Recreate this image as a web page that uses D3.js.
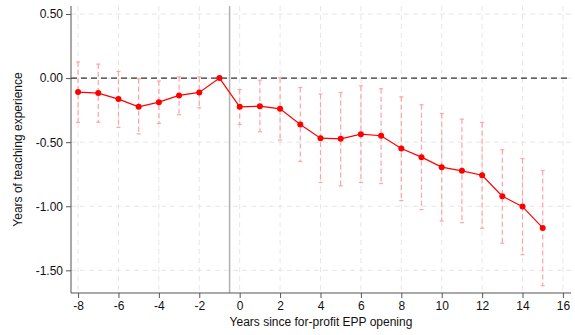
<!DOCTYPE html>
<html><head><meta charset="utf-8">
<script src="https://cdn.jsdelivr.net/npm/d3@7"></script>
<style>body{margin:0;background:#fff;} svg{display:block;font-family:"Liberation Sans",Arial,sans-serif;}</style>
</head><body><svg id="c" width="575" height="335"></svg>
<script>
const years = [-8,-7,-6,-5,-4,-3,-2,-1,0,1,2,3,4,5,6,7,8,9,10,11,12,13,14,15];
const estimates = [-0.109,-0.117,-0.164,-0.224,-0.188,-0.135,-0.112,0,-0.224,-0.219,-0.240,-0.362,-0.469,-0.474,-0.438,-0.450,-0.550,-0.617,-0.695,-0.724,-0.758,-0.922,-1.003,-1.169];
const ciUpper = [0.125,0.109,0.052,-0.005,-0.023,0.010,0.010,null,-0.089,-0.016,0.003,-0.073,-0.125,-0.112,-0.060,-0.083,-0.146,-0.208,-0.276,-0.320,-0.346,-0.560,-0.628,-0.721];
const ciLower = [-0.346,-0.344,-0.385,-0.435,-0.354,-0.286,-0.232,null,-0.362,-0.419,-0.484,-0.651,-0.815,-0.841,-0.815,-0.823,-0.956,-1.026,-1.115,-1.128,-1.172,-1.289,-1.378,-1.620];
const xTicks = [-8,-6,-4,-2,0,2,4,6,8,10,12,14,16];
const yTicks = [0.5,0,-0.5,-1,-1.5];
const xTitle = "Years since for-profit EPP opening";
const yTitle = "Years of teaching experience";

const data = years.map((y,i)=>({x:y,v:estimates[i],hi:ciUpper[i],lo:ciLower[i]}));
const svg = d3.select("#c");
const L=71, R=571, T=6, B=293;
const x = d3.scaleLinear().domain([-8.35,16.4]).range([L,R]);
const y = d3.scaleLinear().domain([-1.677,0.5625]).range([B,T]);

// grid
const g = svg.append("g");
g.selectAll(".gx").data(xTicks).join("line")
  .attr("x1",d=>x(d)).attr("x2",d=>x(d)).attr("y1",T).attr("y2",B)
  .attr("stroke","#e6e6e6").attr("stroke-width",1).attr("stroke-dasharray","5,4");
g.selectAll(".gy").data(yTicks).join("line")
  .attr("x1",L).attr("x2",R).attr("y1",d=>y(d)).attr("y2",d=>y(d))
  .attr("stroke","#e6e6e6").attr("stroke-width",1).attr("stroke-dasharray","5,4");

// vertical reference line
svg.append("line").attr("x1",x(-0.5)).attr("x2",x(-0.5)).attr("y1",T).attr("y2",B)
  .attr("stroke","#b0b0b0").attr("stroke-width",1.5);
// zero line
svg.append("line").attr("x1",L).attr("x2",R).attr("y1",y(0)).attr("y2",y(0))
  .attr("stroke","#333").attr("stroke-width",1.2).attr("stroke-dasharray","6,4");

// error bars
const ci = data.filter(d=>d.hi!==null);
const eb = svg.append("g").attr("stroke","#ffa3a3").attr("stroke-width",1.2);
eb.selectAll(".v").data(ci).join("line")
  .attr("x1",d=>x(d.x)).attr("x2",d=>x(d.x)).attr("y1",d=>y(d.hi)).attr("y2",d=>y(d.lo))
  .attr("stroke-dasharray","5,3");
eb.selectAll(".ct").data(ci).join("line")
  .attr("x1",d=>x(d.x)-2).attr("x2",d=>x(d.x)+2).attr("y1",d=>y(d.hi)).attr("y2",d=>y(d.hi));
eb.selectAll(".cb").data(ci).join("line")
  .attr("x1",d=>x(d.x)-2).attr("x2",d=>x(d.x)+2).attr("y1",d=>y(d.lo)).attr("y2",d=>y(d.lo));

// line and points
svg.append("path").datum(data)
  .attr("d",d3.line().x(d=>x(d.x)).y(d=>y(d.v)))
  .attr("fill","none").attr("stroke","#ff0000").attr("stroke-width",1.2);
svg.selectAll(".pt").data(data).join("circle")
  .attr("cx",d=>x(d.x)).attr("cy",d=>y(d.v)).attr("r",3).attr("fill","#ff0000");

// axes
const ax = svg.append("g").attr("transform",`translate(0,${B})`)
  .call(d3.axisBottom(x).tickValues(xTicks).tickSize(5).tickPadding(3).tickFormat(d3.format("d")));
const ay = svg.append("g").attr("transform",`translate(${L},0)`)
  .call(d3.axisLeft(y).tickValues(yTicks).tickSize(5).tickPadding(3).tickFormat(d=>d3.format(".2f")(d).replace("−","-")));
ax.select(".domain").attr("d",`M${L},0H${R}`);
ay.select(".domain").attr("d",`M0,${T}V${B}`);
[ax,ay].forEach(a=>{
  a.selectAll(".domain,.tick line").attr("stroke","#555").attr("stroke-width",1);
  a.selectAll("text").attr("font-size",12).attr("fill","#111").attr("font-family","Liberation Sans, Arial, sans-serif");
});
ax.selectAll(".tick text").text(d=>String(d));

svg.append("text").attr("x",(L+R)/2).attr("y",326).attr("text-anchor","middle")
  .attr("font-size",12).attr("fill","#111").text(xTitle);
svg.append("text").attr("transform",`translate(22,${(T+B)/2}) rotate(-90)`).attr("text-anchor","middle")
  .attr("font-size",12).attr("fill","#111").text(yTitle);
</script></body></html>
